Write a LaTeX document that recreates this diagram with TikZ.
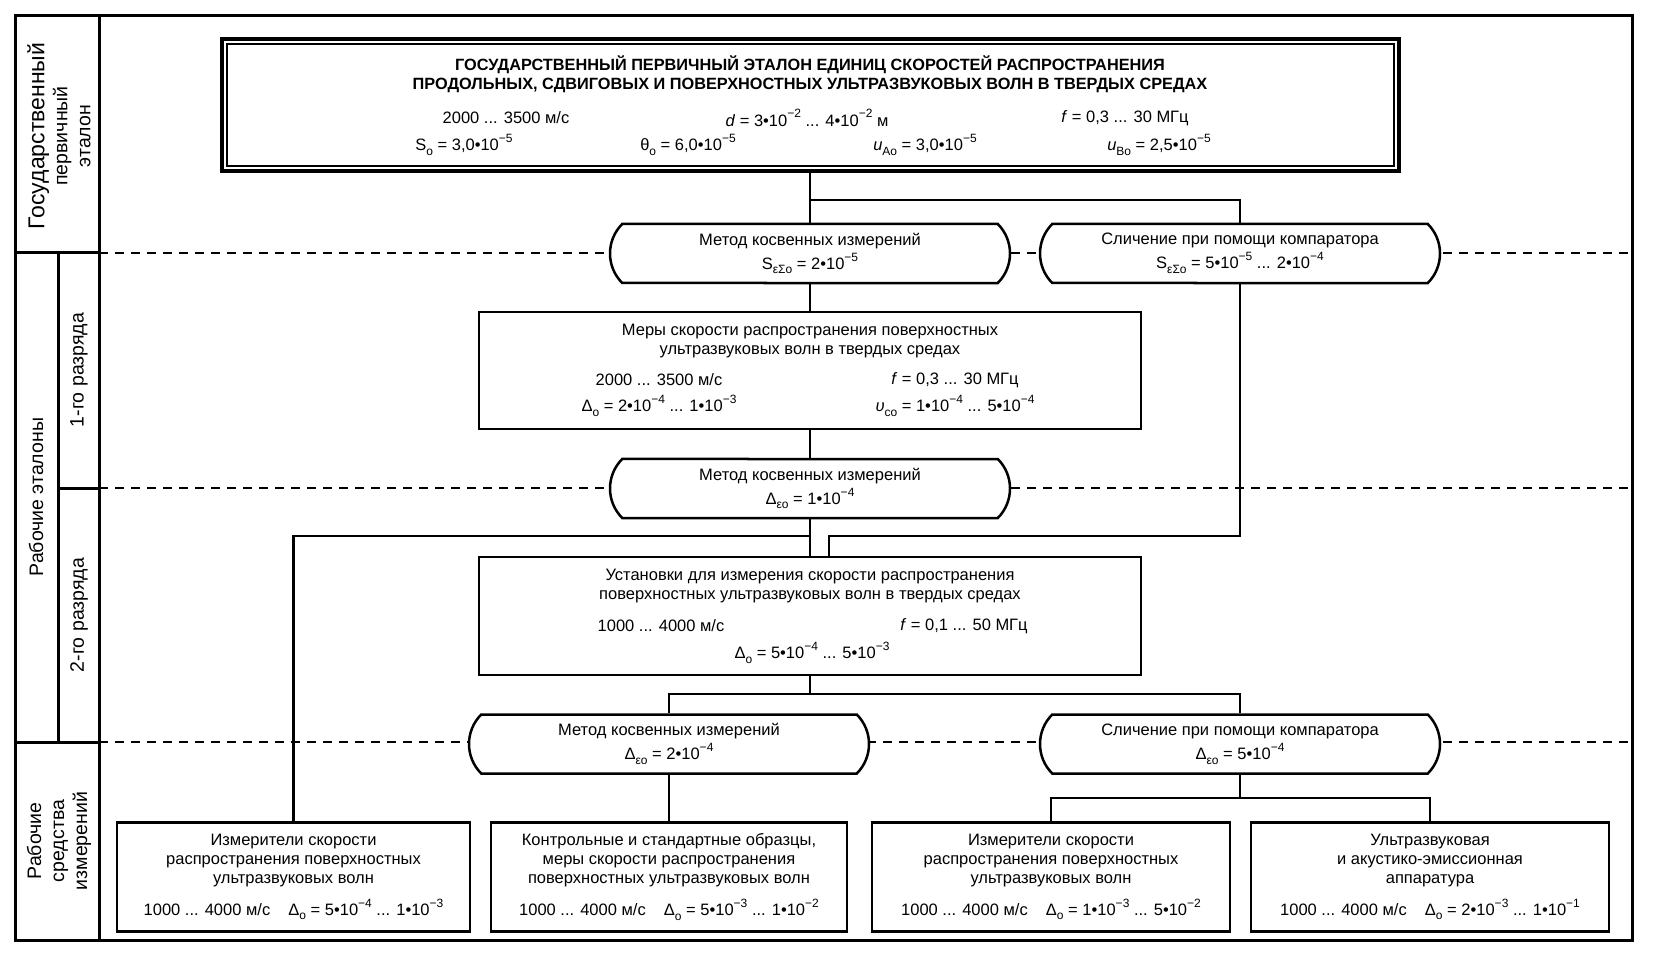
\documentclass[tikz,border=0pt]{standalone}
\usepackage{fontspec}
\setmainfont{Liberation Sans}
\usetikzlibrary{shapes.misc}

\newcommand\pw[1]{\raisebox{0.5em}{\fontsize{12}{12}\selectfont #1}}
\newcommand\ix[1]{\raisebox{-0.28em}{\fontsize{12}{12}\selectfont #1}}

\begin{document}
\begin{tikzpicture}[x=1pt,y=-1pt]
		\tikzstyle{frame}=[line width=3pt]
		\tikzstyle{box}=[draw,line width=2.5pt,rectangle,fill=white,align=center,inner sep=0pt,font=\fontsize{16.5}{19}\selectfont]
		\tikzstyle{oval}=[draw,line width=2.5pt,rounded rectangle,rounded rectangle arc length=90,fill=white,minimum width=400pt,minimum height=59pt,inner sep=0pt,align=center,font=\fontsize{16.5}{24}\selectfont]
		\tikzstyle{link}=[line width=2.5pt]
		\tikzstyle{level}=[line width=1.5pt,dash pattern=on 9pt off 7pt]
		\tikzstyle{txt}=[font=\fontsize{16.5}{19}\selectfont,align=center,inner sep=0pt]
		\tikzstyle{side}=[font=\fontsize{19.5}{23}\selectfont,align=center,inner sep=0pt,rotate=90]
		\useasboundingbox (0,0) rectangle (1654,965);

		% frame and left column
		\draw[frame] (15,16) rectangle (1632,940);
		\draw[frame] (99,16) -- (99,940);
		\draw[frame] (58,253) -- (58,742);
		\draw[frame] (15,253) -- (99,253);
		\draw[frame] (58,488) -- (99,488);
		\draw[frame] (15,742) -- (99,742);
		\foreach \y in {253,488,742} { \draw[level] (99,\y) -- (1632,\y);}

		\node[side] (lgos) at (59,136) {{\fontsize{23}{24}\selectfont Государственный}\\первичный\\эталон};
		\node[side] (lrab) at (36,497) {Рабочие эталоны};
		\node[side] (lr1) at (79,370) {1-го разряда};
		\node[side] (lr2) at (79,615) {2-го разряда};
		\node[side] (lsi) at (59,841) {Рабочие\\средства\\измерений};

		% primary standard
		\node[box,line width=4pt,minimum width=1177pt,minimum height=132pt] (top) at (810,105) {};
		\draw[line width=2pt] ([shift={(7,7)}]top.north west) rectangle ([shift={(-7,-7)}]top.south east);
		\node[txt,font=\fontsize{16.3}{19.5}\selectfont\bfseries] (title) at (810,74) {ГОСУДАРСТВЕННЫЙ ПЕРВИЧНЫЙ ЭТАЛОН ЕДИНИЦ СКОРОСТЕЙ РАСПРОСТРАНЕНИЯ\\ПРОДОЛЬНЫХ, СДВИГОВЫХ И ПОВЕРХНОСТНЫХ УЛЬТРАЗВУКОВЫХ ВОЛН В ТВЕРДЫХ СРЕДАХ};
		\node[txt] (tv) at (506,118) {2000 ... 3500 м/с};
		\node[txt] (td) at (807,118) {\textit{d} = 3•10\pw{−2} ... 4•10\pw{−2} м};
		\node[txt] (tf) at (1125,118) {\textit{f} = 0,3 ... 30 МГц};
		\node[txt] (ts) at (464,145) {S\ix{о} = 3,0•10\pw{−5}};
		\node[txt] (tth) at (688,145) {θ\ix{о} = 6,0•10\pw{−5}};
		\node[txt] (tua) at (925,145) {\textit{u}\ix{Aо} = 3,0•10\pw{−5}};
		\node[txt] (tub) at (1159,145) {\textit{u}\ix{Bо} = 2,5•10\pw{−5}};

		% first rank
		\node[oval] (m1) at (810,253.5) {Метод косвенных измерений\\S\ix{εΣо} = 2•10\pw{−5}};
		\node[oval] (m2) at (1240,253.5) {Сличение при помощи компаратора\\S\ix{εΣо} = 5•10\pw{−5} ... 2•10\pw{−4}};
		\node[box,minimum width=662pt,minimum height=117pt] (mery) at (810,370.5) {};
		\node[txt] (mt) at (810,341) {Меры скорости распространения поверхностных\\ультразвуковых волн в твердых средах};
		\node[txt] (mv) at (659,380) {2000 ... 3500 м/с};
		\node[txt] (mf) at (955,380) {\textit{f} = 0,3 ... 30 МГц};
		\node[txt] (md) at (659,406) {Δ\ix{о} = 2•10\pw{−4} ... 1•10\pw{−3}};
		\node[txt] (mu) at (955,406) {\textit{υ}\ix{cо} = 1•10\pw{−4} ... 5•10\pw{−4}};

		% second rank
		\node[oval] (m3) at (810,488.5) {Метод косвенных измерений\\Δ\ix{εо} = 1•10\pw{−4}};
		\node[box,minimum width=662pt,minimum height=118pt] (ust) at (810,616) {};
		\node[txt] (ut) at (810,586) {Установки для измерения скорости распространения\\поверхностных ультразвуковых волн в твердых средах};
		\node[txt] (uv) at (661,626) {1000 ... 4000 м/с};
		\node[txt] (uf) at (964,626) {\textit{f} = 0,1 ... 50 МГц};
		\node[txt] (ud) at (812,653) {Δ\ix{о} = 5•10\pw{−4} ... 5•10\pw{−3}};

		% working instruments
		\node[oval] (m4) at (669,744) {Метод косвенных измерений\\Δ\ix{εо} = 2•10\pw{−4}};
		\node[oval] (m5) at (1240,744) {Сличение при помощи компаратора\\Δ\ix{εо} = 5•10\pw{−4}};
		\node[box,minimum width=353pt,minimum height=109pt] (s1) at (293.5,877) {Измерители скорости\\распространения поверхностных\\ультразвуковых волн\\[11pt]1000 ... 4000 м/с\hspace{1.1em}Δ\ix{о} = 5•10\pw{−4} ... 1•10\pw{−3}};
		\node[box,minimum width=356pt,minimum height=109pt] (s2) at (669,877) {Контрольные и стандартные образцы,\\меры скорости распространения\\поверхностных ультразвуковых волн\\[11pt]1000 ... 4000 м/с\hspace{1.1em}Δ\ix{о} = 5•10\pw{−3} ... 1•10\pw{−2}};
		\node[box,minimum width=358pt,minimum height=109pt] (s3) at (1051,877) {Измерители скорости\\распространения поверхностных\\ультразвуковых волн\\[11pt]1000 ... 4000 м/с\hspace{1.1em}Δ\ix{о} = 1•10\pw{−3} ... 5•10\pw{−2}};
		\node[box,minimum width=358pt,minimum height=109pt] (s4) at (1430,877) {Ультразвуковая\\и акустико-эмиссионная\\аппаратура\\[11pt]1000 ... 4000 м/с\hspace{1.1em}Δ\ix{о} = 2•10\pw{−3} ... 1•10\pw{−1}};

		% connectors
		\coordinate (j1) at (810,200);
		\coordinate (j2) at (829,536);
		\coordinate (j3) at (810,536);
		\coordinate (j4) at (810,694);
		\coordinate (j5) at (1240,798);
		\draw[link] (top.south) -- (m1.north);
		\draw[link] (j1) -| (m2.north);
		\draw[link] (m1.south) -- (mery.north);
		\draw[link] (mery.south) -- (m3.north);
		\draw[link] (m3.south) -- (ust.north);
		\draw[link] (m2.south) |- (j2) -- (j2 |- ust.north);
		\draw[link] (j3) -| (s1.north);
		\draw[link] (ust.south) -- (j4);
		\draw[link] (m4.north) |- (j4) -| (m5.north);
		\draw[link] (m4.south) -- (s2.north);
		\draw[link] (m5.south) -- (j5);
		\draw[link] (s3.north) |- (j5) -| (s4.north);
	\end{tikzpicture}
\end{document}
